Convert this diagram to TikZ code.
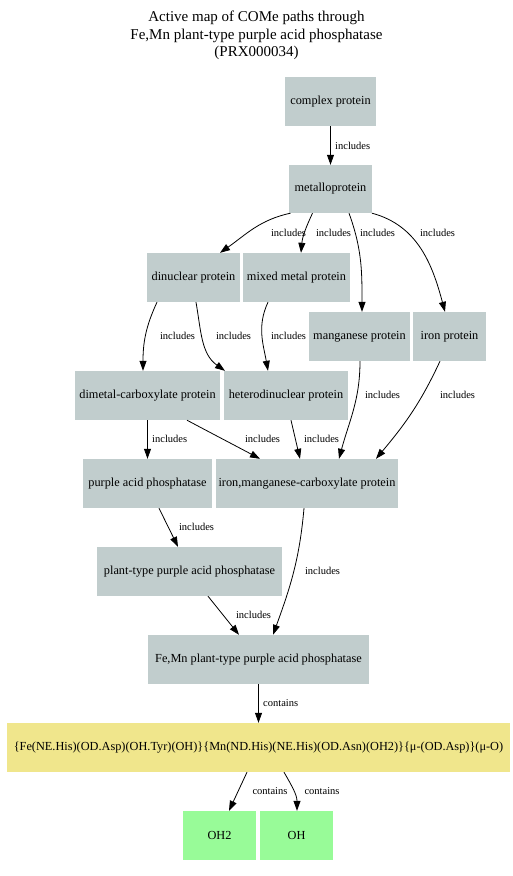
\documentclass[tikz,border=0pt]{standalone}
\usepackage{fontspec}
\setmainfont{Liberation Serif}
\usetikzlibrary{arrows.meta}
\definecolor{boxgray}{RGB}{193,205,205}
\definecolor{boxkhaki}{RGB}{240,230,140}
\definecolor{boxgreen}{RGB}{152,251,152}
\tikzset{
  box/.style={rectangle, fill=boxgray, inner sep=0pt, minimum height=49pt, font=\fontsize{12.3}{14}\selectfont},
  khakibox/.style={box, fill=boxkhaki},
  greenbox/.style={box, fill=boxgreen},
  lbl/.style={font=\fontsize{10.5}{12}\selectfont, inner sep=0pt},
  edge/.style={-{Triangle[length=10pt,width=7pt]}, line width=0.8pt, black},
  ttl/.style={font=\fontsize{15}{17.5}\selectfont, align=center, inner sep=0pt}
}
\begin{document}
\begin{tikzpicture}[x=1pt,y=-1pt]
\useasboundingbox (0,0) rectangle (513,876);
\node[ttl] (title) at (256.5,35.5) {Active map of COMe paths through\\Fe,Mn plant-type purple acid phosphatase\\(PRX000034)};

\node[box, minimum width=91pt] (complex) at (330.5,101.5) {complex protein};
\node[box, minimum width=83pt, minimum height=48pt] (meta) at (330.5,189) {metalloprotein};
\node[box, minimum width=93pt] (dinuc) at (193.5,277.5) {dinuclear protein};
\node[box, minimum width=107pt] (mixed) at (296.5,277.5) {mixed metal protein};
\node[box, minimum width=101pt] (mang) at (359.5,336.5) {manganese protein};
\node[box, minimum width=73pt] (iron) at (449.5,336.5) {iron protein};
\node[box, minimum width=145pt] (dimetal) at (147.5,395.5) {dimetal-carboxylate protein};
\node[box, minimum width=124pt] (hetero) at (286,395.5) {heterodinuclear protein};
\node[box, minimum width=129pt] (purple) at (147.5,483.5) {purple acid phosphatase};
\node[box, minimum width=182pt] (ironmn) at (307,483.5) {iron,manganese-carboxylate protein};
\node[box, minimum width=185pt] (plant) at (189.5,571.5) {plant-type purple acid phosphatase};
\node[box, minimum width=221pt] (femn) at (258.5,659.5) {Fe,Mn plant-type purple acid phosphatase};
\node[khakibox, minimum width=503pt] (site) at (258.5,747.5) {\{Fe(NE.His)(OD.Asp)(OH.Tyr)(OH)\}\{Mn(ND.His)(NE.His)(OD.Asn)(OH2)\}\{μ-(OD.Asp)\}(μ-O)};
\node[greenbox, minimum width=73pt] (oh2) at (219.5,835.5) {OH2};
\node[greenbox, minimum width=73pt] (oh) at (296.5,835.5) {OH};

% edges
\draw[edge] (complex.south) -- (meta.north);
\draw[edge] ([xshift=-40pt]meta.south) to[out=-168,in=35] ([xshift=26.5pt]dinuc.north);
\draw[edge] ([xshift=-18pt]meta.south) to[out=-115,in=85] ([xshift=4.5pt]mixed.north);
\draw[edge] ([xshift=18.5pt]meta.south) to[out=-70,in=90] ([xshift=2.5pt]mang.north);
\draw[edge] ([xshift=41.5pt]meta.south) to[out=-15,in=105] ([xshift=-4.5pt]iron.north);
\draw[edge] ([xshift=-36.5pt]dinuc.south) to[out=-115,in=90] ([xshift=-4.5pt]dimetal.north);
\draw[edge] ([xshift=2.5pt]dinuc.south) to[out=-80,in=145] ([xshift=-61pt]hetero.north);
\draw[edge] ([xshift=-28.5pt]mixed.south) to[out=-115,in=100] ([xshift=-18pt]hetero.north);
\draw[edge] ([xshift=0.5pt]mang.south) to[out=-90,in=75] ([xshift=32pt]ironmn.north);
\draw[edge] ([xshift=-9.5pt]iron.south) to[out=-115,in=50] ([xshift=69pt]ironmn.north);
\draw[edge] (dimetal.south) -- (purple.north);
\draw[edge] ([xshift=39.5pt]dimetal.south) to[out=-28,in=152] ([xshift=-47pt]ironmn.north);
\draw[edge] ([xshift=5pt]hetero.south) -- ([xshift=-7pt]ironmn.north);
\draw[edge] ([xshift=11.5pt]purple.south) -- ([xshift=-11.5pt]plant.north);
\draw[edge] ([xshift=-3pt]ironmn.south) to[out=-95,in=70] ([xshift=14.5pt]femn.north);
\draw[edge] ([xshift=18.5pt]plant.south) -- ([xshift=-19.5pt]femn.north);
\draw[edge] (femn.south) -- (site.north);
\draw[edge] ([xshift=-11.5pt]site.south) -- ([xshift=9.5pt]oh2.north);
\draw[edge] ([xshift=25.5pt]site.south) to[out=-60,in=90] ([xshift=0.5pt]oh.north);

% edge labels
\node[lbl, anchor=west] (l1) at (335,146) {includes};
\node[lbl] (l2) at (288.5,233) {includes};
\node[lbl] (l3) at (333.5,233) {includes};
\node[lbl] (l4) at (377.5,233) {includes};
\node[lbl] (l5) at (437.5,233) {includes};
\node[lbl] (l6) at (177.5,336) {includes};
\node[lbl] (l7) at (233.5,336) {includes};
\node[lbl] (l8) at (288.5,336) {includes};
\node[lbl] (l9) at (382.5,395) {includes};
\node[lbl] (l10) at (457.5,395) {includes};
\node[lbl, anchor=west] (l11) at (152,439) {includes};
\node[lbl] (l12) at (262.5,439) {includes};
\node[lbl] (l13) at (321.5,439) {includes};
\node[lbl] (l14) at (196.5,527) {includes};
\node[lbl] (l15) at (322.5,571) {includes};
\node[lbl] (l16) at (253.5,615) {includes};
\node[lbl, anchor=west] (l17) at (263,703) {contains};
\node[lbl] (l18) at (270,791) {contains};
\node[lbl] (l19) at (322,791) {contains};
\end{tikzpicture}
\end{document}
